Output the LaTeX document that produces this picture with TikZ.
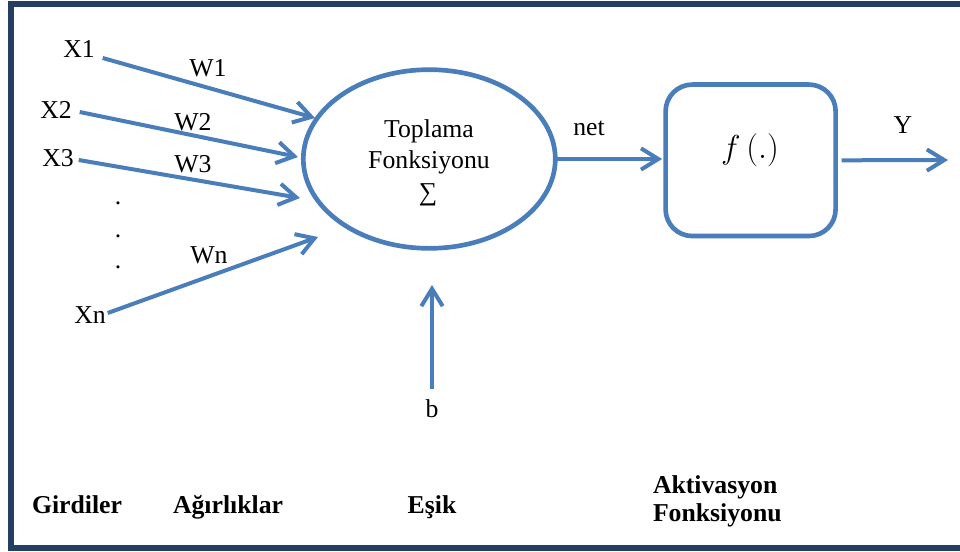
\documentclass[tikz,border=0pt]{standalone}
\usepackage{fontspec}
\setmainfont{Liberation Serif}
\usetikzlibrary{shapes.geometric,arrows.meta,calc}
\definecolor{linkblue}{HTML}{4A7EBB}
\definecolor{framenavy}{HTML}{243F60}
\begin{document}
\begin{tikzpicture}[x=0.75pt,y=-0.75pt,
  every node/.style={inner sep=0pt, outer sep=0pt, font=\fontsize{19.3}{23}\selectfont},
  lbl/.style={anchor=base},
  caption/.style={anchor=base west, font=\fontsize{19.3}{23}\selectfont\bfseries},
  link/.style={draw=linkblue, line width=3pt, -{Straight Barb[length=13pt,width=16pt]}},
  shapeline/.style={draw=linkblue, line width=3.5pt},
]
\useasboundingbox (0,0) rectangle (960,551);

% outer frame, open on the right
\begin{scope}
  \clip (0,0) rectangle (960,551);
  \draw[framenavy, line width=4.5pt] (11.3,3.5) rectangle (990,548);
\end{scope}

% summing junction and activation block
\node[shapeline, ellipse, minimum width=189pt, minimum height=134pt] (sum) at (429.3,159) {};
\node[lbl] (sumA) at (429,137) {Toplama};
\node[lbl] (sumB) at (429,168) {Fonksiyonu};
\node (sigma) at (428,195) {∑};

\node[shapeline, rounded corners=20pt, minimum width=127.5pt, minimum height=113.6pt] (act) at (750.6,160.3) {};
\node[font=\fontsize{23}{27}\selectfont] (fx) at (750,150) {$f\,(.)$};

% inputs
\node[lbl] (x1) at (79,57) {X1};
\node[lbl] (x2) at (56,118) {X2};
\node[lbl] (x3) at (58,166) {X3};
\node[lbl] (xn) at (90,323) {Xn};
\node[lbl] (d1) at (118,204) {.};
\node[lbl] (d2) at (118,237) {.};
\node[lbl] (d3) at (118,268) {.};

% weights
\node[lbl] (w1) at (208,76) {W1};
\node[lbl] (w2) at (193,130) {W2};
\node[lbl] (w3) at (193,172) {W3};
\node[lbl] (wn) at (209,263) {Wn};

% input connectors
\coordinate (s1) at ($(x1.base east)+(8,1)$);
\coordinate (s2) at ($(x2.base east)+(8,-6)$);
\coordinate (s3) at ($(x3.base east)+(5,-6)$);
\coordinate (sn) at ($(xn.base east)+(2,-10)$);
\coordinate (t1) at (315,118);
\coordinate (t2) at (298,157);
\coordinate (t3) at (300,198);
\coordinate (tn) at (318,237);
\draw[link] (s1) -- (t1);
\draw[link] (s2) -- (t2);
\draw[link] (s3) -- (t3);
\draw[link] (sn) -- (tn);

% bias
\node[lbl] (b) at (432,417) {b};
\coordinate (bt) at (432,285);
\draw[link] ($(b.north)+(0,-10)$) -- (bt);

% net and output
\node[lbl] (net) at (589,135) {net};
\draw[link, shorten >=2.6pt] (sum.east) -- (sum.east -| act.west);
\node[lbl] (yl) at (903,133) {Y};
\coordinate (yout) at (948,160);
\draw[link] ($(act.east)+(6,0)$) -- (yout);

% captions
\node[caption] (c1) at (32,513) {Girdiler};
\node[caption] (c2) at (173,513) {Ağırlıklar};
\node[caption, anchor=base] (c3) at (432,513) {Eşik};
\node[caption] (c4) at (653,493) {Aktivasyon};
\node[caption] (c5) at (653,521) {Fonksiyonu};
\end{tikzpicture}
\end{document}
